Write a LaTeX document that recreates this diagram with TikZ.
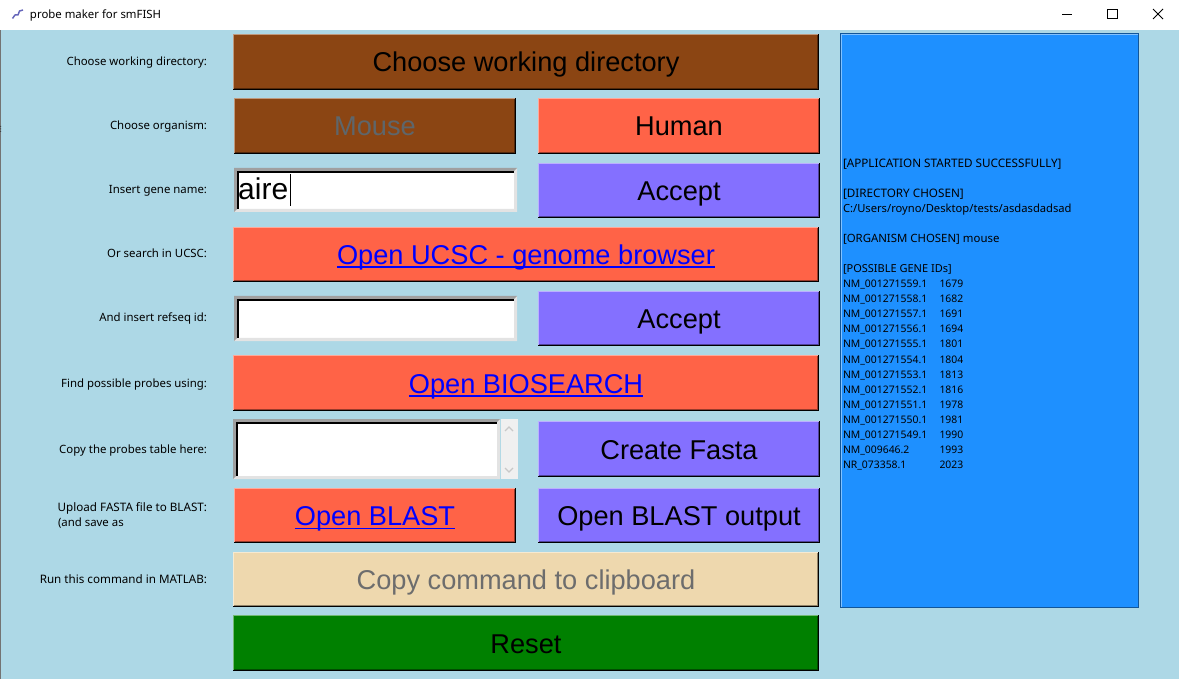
\documentclass[tikz,border=0pt]{standalone}
\usepackage{fontspec}
\setmainfont{Liberation Sans}
\newfontfamily\uifont{Noto Sans}
\definecolor{panelbg}{HTML}{ADD8E6}
\definecolor{brownbtn}{HTML}{8B4513}
\definecolor{tomatobtn}{HTML}{FF6347}
\definecolor{slatebtn}{HTML}{8470FF}
\definecolor{wheatbtn}{HTML}{EED8AE}
\definecolor{greenbtn}{HTML}{008000}
\definecolor{logblue}{HTML}{1E90FF}
\definecolor{linkblue}{HTML}{0000FF}
\definecolor{mousegrey}{HTML}{5E666B}
\definecolor{copygrey}{HTML}{6D6D6D}
\definecolor{bevelgrey}{HTML}{A0A0A0}
\definecolor{bevellight}{HTML}{E3E3E3}
\definecolor{scrollbg}{HTML}{F0F0F0}
\definecolor{scrollarrow}{HTML}{C8C8C8}
\tikzset{
  btntext/.style={font=\fontsize{27.2}{30}\selectfont,text height=28pt,text depth=8pt},
  uilabel/.style={font=\uifont\fontsize{11.4}{13}\selectfont,text=black,inner sep=0pt,outer sep=0pt},
  loglabel/.style={uilabel,anchor=base west},
  sidelabel/.style={uilabel,anchor=base east},
  widelabel/.style={sidelabel,font=\uifont\fontsize{11.65}{13}\selectfont},
  genelabel/.style={loglabel,font=\uifont\fontsize{10.4}{13}\selectfont},
}
\newsavebox{\ulinkbox}
\newcommand{\ulink}[1]{\sbox{\ulinkbox}{#1}\rlap{\raisebox{-3.6pt}{\rule{\wd\ulinkbox}{1.6pt}}}#1}
% name, x1, y1, x2, y2, fill, text colour, text
\newcommand{\uibtn}[8]{%
  \node[btntext,fill=#6,text=#7,inner sep=0pt,outer sep=0pt,
        minimum width={(#4-#2)*1pt},minimum height={(#5-#3)*1pt}]
        (#1) at ({(#2+#4)/2},{(#3+#5)/2}) {#8};
  \draw[#6!55!white,line width=1pt] ([xshift=.5pt,yshift=.5pt]#1.south west) -- ([xshift=.5pt,yshift=-.5pt]#1.north west) -- ([xshift=-.5pt,yshift=-.5pt]#1.north east);
  \draw[#6!60!black,line width=1pt] ([xshift=1pt,yshift=1.7pt]#1.south west) -- ([xshift=-1.7pt,yshift=1.7pt]#1.south east) -- ([xshift=-1.7pt,yshift=-1pt]#1.north east);
  \draw[black,line width=1.2pt] ([yshift=.6pt]#1.south west) -- ([xshift=-.6pt,yshift=.6pt]#1.south east) -- ([xshift=-.6pt]#1.north east);
}
% name, x1, y1, x2, y2
\newcommand{\uientry}[5]{%
  \node[fill=white,inner sep=0pt,outer sep=0pt,
        minimum width={(#4-#2)*1pt},minimum height={(#5-#3)*1pt}]
        (#1) at ({(#2+#4)/2},{(#3+#5)/2}) {};
  \fill[bevellight] (#2,#5) -- (#4,#5) -- (#4,#3) -- (#4-3,#3+3) -- (#4-3,#5-3) -- (#2+3,#5-3) -- cycle;
  \fill[bevelgrey] (#2,#5) -- (#2,#3) -- (#4,#3) -- (#4-3,#3+3) -- (#2+3,#3+3) -- (#2+3,#5-3) -- cycle;
  \draw[black,line width=1.6pt] (#2+3.8,#5-3) -- (#2+3.8,#3+3.8) -- (#4-3,#3+3.8);
}
\begin{document}
\begin{tikzpicture}[x=1pt,y=-1pt]
\useasboundingbox (0,0) rectangle (1179,679);
\fill[panelbg] (0,0) rectangle (1179,679);
\fill[white] (0,0) rectangle (1179,30);
\fill[black!55] (0,30) rectangle (1,679);
\fill[black!75] (0,126) rectangle (1,127) (0,128.5) rectangle (1,129.5) (0,131) rectangle (1,132);

% title bar
\draw[black!45!blue!60!white,line width=1.5pt,line join=round] (12.5,18.5) -- (15,15) -- (18,15) -- (19.5,11) -- (23,10);
\node[loglabel] (title) at (30,19) {probe maker for smFISH};
\draw[black,line width=1pt] (1062,14.5) -- (1072,14.5);
\draw[black,line width=1pt] (1107.5,9.5) rectangle (1117,19);
\draw[black,line width=0.9pt] (1153,9) -- (1163,19) (1163,9) -- (1153,19);

% left labels
\node[sidelabel] (l1) at (207,66) {Choose working directory:};
\node[sidelabel] (l2) at (207,130) {Choose organism:};
\node[sidelabel] (l3) at (207,194) {Insert gene name:};
\node[sidelabel] (l4) at (207,258) {Or search in UCSC:};
\node[sidelabel] (l5) at (207,322) {And insert refseq id:};
\node[sidelabel] (l6) at (207,387) {Find possible probes using:};
\node[sidelabel] (l7) at (207,453) {Copy the probes table here:};
\node[widelabel] (l8) at (207,511) {Upload FASTA file to BLAST:};
\node[loglabel] (l8b) at (58,526) {(and save as};
\node[widelabel] (l9) at (207,583) {Run this command in MATLAB:};

% buttons
\uibtn{bdir}{233}{34}{819}{90}{brownbtn}{black}{Choose working directory}
\uibtn{bmouse}{234}{98}{516}{154}{brownbtn}{mousegrey}{Mouse}
\uibtn{bhuman}{538}{98}{820}{154}{tomatobtn}{black}{Human}
\uientry{egene}{234}{168}{517}{212}
\node[anchor=base west,font=\fontsize{30}{32}\selectfont,inner sep=0pt] (tgene) at (238,200) {aire};
\draw[black,line width=1pt] (290.5,174) -- (290.5,206);
\uibtn{bacc1}{538}{163}{820}{218}{slatebtn}{black}{Accept}
\uibtn{bucsc}{233}{227}{819}{282}{tomatobtn}{linkblue}{\ulink{Open UCSC - genome browser}}
\uientry{eref}{234}{296}{517}{341}
\uibtn{bacc2}{538}{291}{820}{346}{slatebtn}{black}{Accept}
\uibtn{bbio}{233}{355}{819}{411}{tomatobtn}{linkblue}{\ulink{Open BIOSEARCH}}
\uientry{eprobes}{233}{419}{500}{479}
\fill[scrollbg] (501,419) rectangle (518,479);
\draw[scrollarrow,line width=1.3pt] (505,431) -- (509,427) -- (513,431);
\draw[scrollarrow,line width=1.3pt] (505,468) -- (509,472) -- (513,468);
\uibtn{bfasta}{538}{421}{820}{477}{slatebtn}{black}{Create Fasta}
\uibtn{bblast}{234}{488}{516}{543}{tomatobtn}{linkblue}{\ulink{Open BLAST}}
\uibtn{boutput}{538}{488}{820}{543}{slatebtn}{black}{Open BLAST output}
\uibtn{bcopy}{233}{552}{819}{607}{wheatbtn}{copygrey}{Copy command to clipboard}
\uibtn{breset}{233}{615}{819}{671}{greenbtn}{black}{Reset}

% log panel
\node[fill=logblue,draw=logblue!60!black,line width=1pt,inner sep=0pt,outer sep=0pt,
      minimum width=298pt,minimum height=574pt] (log) at (989.5,320.5) {};
\draw[logblue!55!white,line width=1pt] ([xshift=1pt,yshift=1pt]log.south west) -- ([xshift=1pt,yshift=-1pt]log.north west) -- ([xshift=-1pt,yshift=-1pt]log.north east);
\node[loglabel,font=\uifont\fontsize{11.7}{13}\selectfont] (t1) at (843,168) {[APPLICATION STARTED SUCCESSFULLY]};
\node[loglabel,font=\uifont\fontsize{11.7}{13}\selectfont] (t2) at (843,198) {[DIRECTORY CHOSEN]};
\node[loglabel,font=\uifont\fontsize{11.2}{13}\selectfont] (t3) at (843,213) {C:/Users/royno/Desktop/tests/asdasdadsad};
\node[loglabel] (t4) at (843,243) {[ORGANISM CHOSEN] mouse};
\node[loglabel,font=\uifont\fontsize{11}{13}\selectfont] (t5) at (843,273) {[POSSIBLE GENE IDs]};
\foreach \i/\ident/\num in {
  1/NM\_001271559.1/1679, 2/NM\_001271558.1/1682, 3/NM\_001271557.1/1691,
  4/NM\_001271556.1/1694, 5/NM\_001271555.1/1801, 6/NM\_001271554.1/1804,
  7/NM\_001271553.1/1813, 8/NM\_001271552.1/1816, 9/NM\_001271551.1/1978,
  10/NM\_001271550.1/1981, 11/NM\_001271549.1/1990, 12/NM\_009646.2/1993,
  13/NR\_073358.1/2023} {
  \node[genelabel] (id\i) at (843,{273+15*\i}) {\ident};
  \node[genelabel] (num\i) at (939.5,{273+15*\i}) {\num};
}
\end{tikzpicture}
\end{document}
